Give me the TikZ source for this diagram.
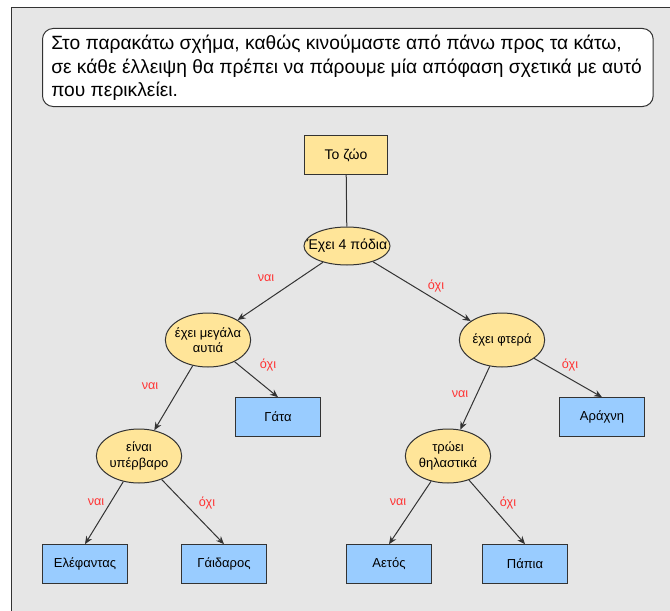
\documentclass[tikz,border=0pt]{standalone}
\usepackage{fontspec}
\setmainfont{Liberation Sans}
\usetikzlibrary{shapes.geometric,arrows.meta}
\definecolor{bggrey}{HTML}{E6E6E6}
\definecolor{ylw}{HTML}{FFE599}
\definecolor{blu}{HTML}{99CCFF}
\definecolor{lbl}{HTML}{FF3333}
\definecolor{edge}{HTML}{333333}
\tikzset{
  qnode/.style={ellipse, draw=edge, fill=ylw, line width=0.75pt, inner sep=0pt, minimum width=64pt, minimum height=40.5pt},
  qtext/.style={align=center, font=\fontsize{9.75}{11.5}\selectfont, inner sep=0pt},
  leaf/.style={rectangle, draw=edge, fill=blu, line width=0.75pt, minimum width=64pt, minimum height=29pt, font=\fontsize{9.75}{11.5}\selectfont},
  root/.style={rectangle, draw=edge, fill=ylw, line width=0.75pt, minimum width=62pt, minimum height=29.5pt, font=\fontsize{10.5}{12}\selectfont},
  conn/.style={draw=edge, line width=0.75pt, -{Stealth[length=6pt,width=5pt]}},
  ans/.style={text=lbl, font=\fontsize{9.5}{10}\selectfont, inner sep=0pt}
}
\begin{document}
\begin{tikzpicture}[x=0.75pt,y=-0.75pt]
\useasboundingbox (0,0) rectangle (670,610);
\fill[white] (0,0) rectangle (670,610);
\fill[bggrey] (11,8) rectangle (672,612);
\draw[edge, line width=0.75pt] (11,612) -- (11,8) -- (672,8);
% header
\node[draw=edge, fill=white, rounded corners=8pt, line width=0.75pt, minimum width=458pt, minimum height=58.5pt, anchor=north west, inner sep=0pt] (hdrbox) at (42,28) {};
\node[anchor=north west, align=left, inner sep=0pt, font=\fontsize{14.4}{17.6}\selectfont] (hdr) at (51,35) {Στο παρακάτω σχήμα, καθώς κινούμαστε από πάνω προς τα κάτω,\\σε κάθε έλλειψη θα πρέπει να πάρουμε μία απόφαση σχετικά με αυτό\\που περικλείει.};
% nodes
\node[root] (zoo) at (346,155) {Το ζώο};
\node[qnode, minimum width=64.5pt, minimum height=28.5pt, label={[qtext, font=\fontsize{10.6}{12}\selectfont]center:Έχει 4 πόδια}] (legs) at (347,246) {};
\node[qnode, label={[qtext]center:έχει μεγάλα\\αυτιά}] (ears) at (208,340) {};
\node[qnode, label={[qtext]center:έχει φτερά}] (wings) at (502,340) {};
\node[leaf] (cat) at (278,417) {Γάτα};
\node[leaf] (spider) at (602,417) {Αράχνη};
\node[qnode, label={[qtext]center:είναι\\υπέρβαρο}] (heavy) at (139,456) {};
\node[qnode, label={[qtext]center:τρώει\\θηλαστικά}] (mamm) at (448,456) {};
\node[leaf] (eleph) at (85,564) {Ελέφαντας};
\node[leaf] (donkey) at (224,564) {Γάιδαρος};
\node[leaf] (eagle) at (389,564) {Αετός};
\node[leaf] (duck) at (525,564) {Πάπια};
% connectors
\draw[draw=edge, line width=0.75pt] (zoo) -- (legs);
\draw[conn] (legs) -- (ears);
\draw[conn] (legs) -- (wings);
\draw[conn] (ears) -- (heavy);
\draw[conn] (ears) -- (cat.north);
\draw[conn] (wings) -- (mamm);
\draw[conn] (wings) -- (spider.north);
\draw[conn] (heavy) -- (eleph.north);
\draw[conn] (heavy) -- (donkey.north);
\draw[conn] (mamm) -- (eagle.north);
\draw[conn] (mamm) -- (duck.north);
% labels
\node[ans] (l1) at (266,278) {ναι};
\node[ans] (l2) at (436,286) {όχι};
\node[ans] (l3) at (268,365) {όχι};
\node[ans] (l4) at (150,386) {ναι};
\node[ans] (l5) at (460,394) {ναι};
\node[ans] (l6) at (570,365) {όχι};
\node[ans] (l7) at (96,502) {ναι};
\node[ans] (l8) at (207,503) {όχι};
\node[ans] (l9) at (398,502) {ναι};
\node[ans] (l10) at (508,503) {όχι};
\end{tikzpicture}
\end{document}
